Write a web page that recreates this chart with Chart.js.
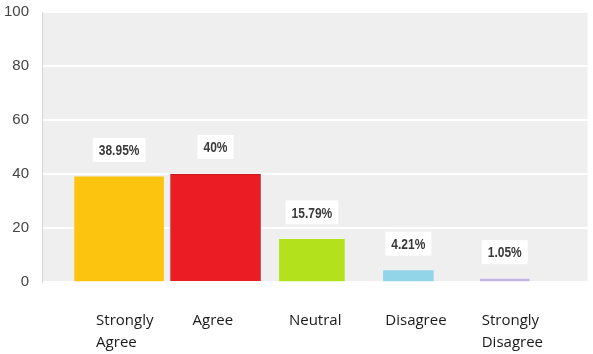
<!DOCTYPE html>
<html>
<head>
<meta charset="utf-8">
<script src="https://cdn.jsdelivr.net/npm/chart.js@4"></script>
<style>
    html, body { margin: 0; padding: 0; background: #fff; }
    #surveyChart { display: block; }
</style>
</head>
<body>
<canvas id="surveyChart" width="593" height="354"></canvas>
<script>
const categories = ['Strongly Agree', 'Agree', 'Neutral', 'Disagree', 'Strongly Disagree'];
const percentages = [38.95, 40, 15.79, 4.21, 1.05];
const yTicks = [0, 20, 40, 60, 80, 100];

const barColors = ['#fdc40f', '#ec1c24', '#b3e21c', '#93d5e8', '#c2b7e2'];
const barWidths = [89, 90, 65, 50, 49];

// grey plot background, painted before grid and bars
const plotBackground = {
    id: 'plotBackground',
    beforeDraw(chart) {
        const { ctx, chartArea } = chart;
        ctx.save();
        ctx.fillStyle = '#efefef';
        ctx.fillRect(chartArea.left, chartArea.top, chartArea.right - chartArea.left, chartArea.bottom - chartArea.top);
        ctx.restore();
    }
};

// percentage tags above each bar, on a white box (text squeezed to a narrow face)
const valueTags = {
    id: 'valueTags',
    afterDatasetsDraw(chart) {
        const ctx = chart.ctx;
        const squeeze = 0.8;
        ctx.save();
        ctx.font = 'bold 15px "Liberation Sans", Arial, sans-serif';
        ctx.textAlign = 'center';
        ctx.textBaseline = 'middle';
        chart.data.datasets.forEach((ds, i) => {
            const bar = chart.getDatasetMeta(i).data[0];
            if (!bar) return;
            const text = percentages[i] + '%';
            const w = ctx.measureText(text).width * squeeze + 12;
            const h = 24;
            const cy = bar.y - 27;
            ctx.fillStyle = '#ffffff';
            ctx.fillRect(bar.x - w / 2, cy - h / 2, w, h);
            ctx.save();
            ctx.translate(bar.x, cy + 1);
            ctx.scale(squeeze, 1);
            ctx.fillStyle = '#3a3a3a';
            ctx.fillText(text, 0, 0);
            ctx.restore();
        });
        ctx.restore();
    }
};

const datasets = categories.map((name, i) => ({
    label: name,
    data: [{ x: i, y: percentages[i] }],
    backgroundColor: barColors[i],
    borderColor: i === 1 ? '#b81c24' : barColors[i],
    borderWidth: i === 1 ? 1 : 0,
    barThickness: barWidths[i],
    grouped: false
}));

new Chart(document.getElementById('surveyChart'), {
    type: 'bar',
    data: { datasets: datasets },
    options: {
        responsive: false,
        animation: false,
        layout: { padding: { top: 12, right: 0, bottom: 0, left: 0 } },
        plugins: {
            legend: { display: false },
            tooltip: { enabled: false }
        },
        scales: {
            x: {
                type: 'linear',
                min: -0.8,
                max: 4.86,
                bounds: 'data',
                offset: false,
                afterFit: (scale) => { scale.height = 72; },
                afterBuildTicks: (scale) => { scale.ticks = categories.map((_, i) => ({ value: i })); },
                grid: { display: false, drawTicks: false, offset: false },
                border: { display: false },
                ticks: {
                    autoSkip: false,
                    maxRotation: 0,
                    align: 'start',
                    labelOffset: -23,
                    padding: 27,
                    color: '#1a1a1a',
                    font: { family: '"Open Sans", sans-serif', size: 15, lineHeight: 1.5 },
                    callback: (value) => {
                        const name = categories[Math.round(value)];
                        if (!name) return '';
                        return name.startsWith('Strongly') ? name.split(' ') : name;
                    }
                }
            },
            y: {
                min: yTicks[0],
                max: yTicks[yTicks.length - 1],
                afterFit: (scale) => {
                    scale.width = 42;
                    scale.paddingTop = 0;
                    scale.paddingBottom = 0;
                },
                afterBuildTicks: (scale) => { scale.ticks = yTicks.map(v => ({ value: v })); },
                grid: { color: '#ffffff', lineWidth: 2, drawTicks: false },
                border: { display: true, color: '#d6d6d6', width: 1 },
                ticks: {
                    padding: 13,
                    color: '#444444',
                    font: { family: '"Liberation Sans", Arial, sans-serif', size: 15 }
                }
            }
        }
    },
    plugins: [plotBackground, valueTags]
});
</script>
</body>
</html>
